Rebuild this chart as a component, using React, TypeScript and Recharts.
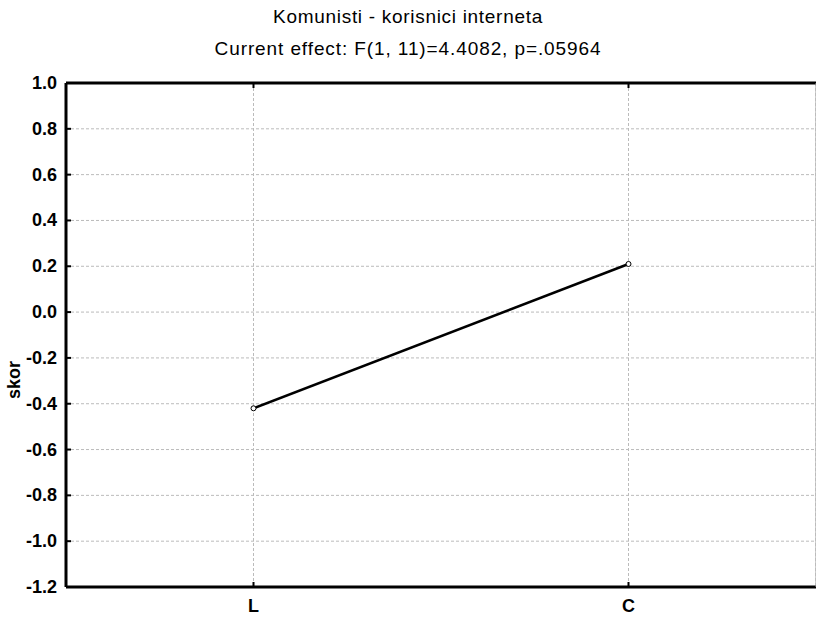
import { CartesianGrid, Line, LineChart, XAxis, YAxis } from "recharts";

const categories = ["L", "C"];
const skorValues = [-0.42, 0.21];
const yTicks = [-1.2, -1.0, -0.8, -0.6, -0.4, -0.2, 0.0, 0.2, 0.4, 0.6, 0.8, 1.0];

const data = categories.map((c, i) => ({ x: i, cat: c, skor: skorValues[i] }));

const font = "'Liberation Sans', Arial, sans-serif";

// y tick label plus a small inward tick mark on the left axis
const LeftTick = (props: any) => {
  const { x, y, payload } = props;
  return (
    <g>
      <text x={x} y={y} dy={6} textAnchor="end" fill="#000" fontSize={18} fontWeight="bold" fontFamily={font}>
        {payload.value.toFixed(1)}
      </text>
      <line x1={x + 9} x2={x + 14} y1={y} y2={y} stroke="#000" strokeWidth={2} />
    </g>
  );
};

// category label plus a small inward tick mark on the bottom axis
const BottomTick = (props: any) => {
  const { x, y, payload } = props;
  return (
    <g>
      <text x={x} y={y} dy={16} textAnchor="middle" fill="#000" fontSize={18} fontWeight="bold" fontFamily={font}>
        {categories[payload.value] ?? ""}
      </text>
      <line x1={x} x2={x} y1={y - 9} y2={y - 14} stroke="#000" strokeWidth={2} />
    </g>
  );
};

const titleStyle = {
  position: "absolute" as const,
  width: 816,
  textAlign: "center" as const,
  fontSize: 19,
  lineHeight: "22px",
};

export default function App() {
  return (
    <div style={{ position: "absolute", left: 0, top: 0, width: 816, height: 620, fontFamily: font, background: "#fff" }}>
      <div style={{ ...titleStyle, top: 6, letterSpacing: 0.7 }}>Komunisti - korisnici interneta</div>
      <div style={{ ...titleStyle, top: 38, letterSpacing: 0.9 }}>Current effect: F(1, 11)=4.4082, p=.05964</div>
      <div
        style={{
          position: "absolute",
          left: 14,
          top: 380,
          transform: "translate(-50%, -50%) rotate(-90deg)",
          fontSize: 18,
          fontWeight: "bold",
        }}
      >
        skor
      </div>
      <LineChart width={816} height={620} data={data} margin={{ top: 83, right: 0, bottom: 0, left: 0 }}>
        <CartesianGrid xAxisId="bottom" yAxisId="left" stroke="#bbb" strokeDasharray="3 2" />
        <XAxis
          xAxisId="bottom"
          dataKey="x"
          type="number"
          domain={[-0.5, 1.5]}
          ticks={[0, 1]}
          height={33}
          axisLine={{ stroke: "#000", strokeWidth: 3 }}
          tickLine={false}
          tickSize={0}
          tickMargin={9}
          tick={BottomTick}
        />
        <XAxis
          xAxisId="top"
          orientation="top"
          dataKey="x"
          type="number"
          domain={[-0.5, 1.5]}
          ticks={[0, 1]}
          tickFormatter={() => ""}
          height={1}
          mirror
          tickSize={5}
          axisLine={{ stroke: "#000", strokeWidth: 3 }}
          tickLine={{ stroke: "#000", strokeWidth: 2 }}
        />
        <YAxis
          yAxisId="left"
          domain={[-1.2, 1.0]}
          ticks={yTicks}
          interval={0}
          width={66}
          axisLine={{ stroke: "#000", strokeWidth: 3 }}
          tickLine={false}
          tickSize={0}
          tickMargin={9}
          tick={LeftTick}
        />
        <YAxis
          yAxisId="right"
          orientation="right"
          domain={[-1.2, 1.0]}
          ticks={yTicks}
          interval={0}
          width={1}
          mirror
          tickSize={5}
          tickFormatter={() => ""}
          axisLine={{ stroke: "#999", strokeWidth: 1 }}
          tickLine={{ stroke: "#000", strokeWidth: 2 }}
        />
        <Line
          xAxisId="bottom"
          yAxisId="left"
          dataKey="skor"
          stroke="#000"
          strokeWidth={2.5}
          dot={{ r: 2.5, fill: "#fff", stroke: "#000", strokeWidth: 1 }}
          isAnimationActive={false}
        />
      </LineChart>
    </div>
  );
}
